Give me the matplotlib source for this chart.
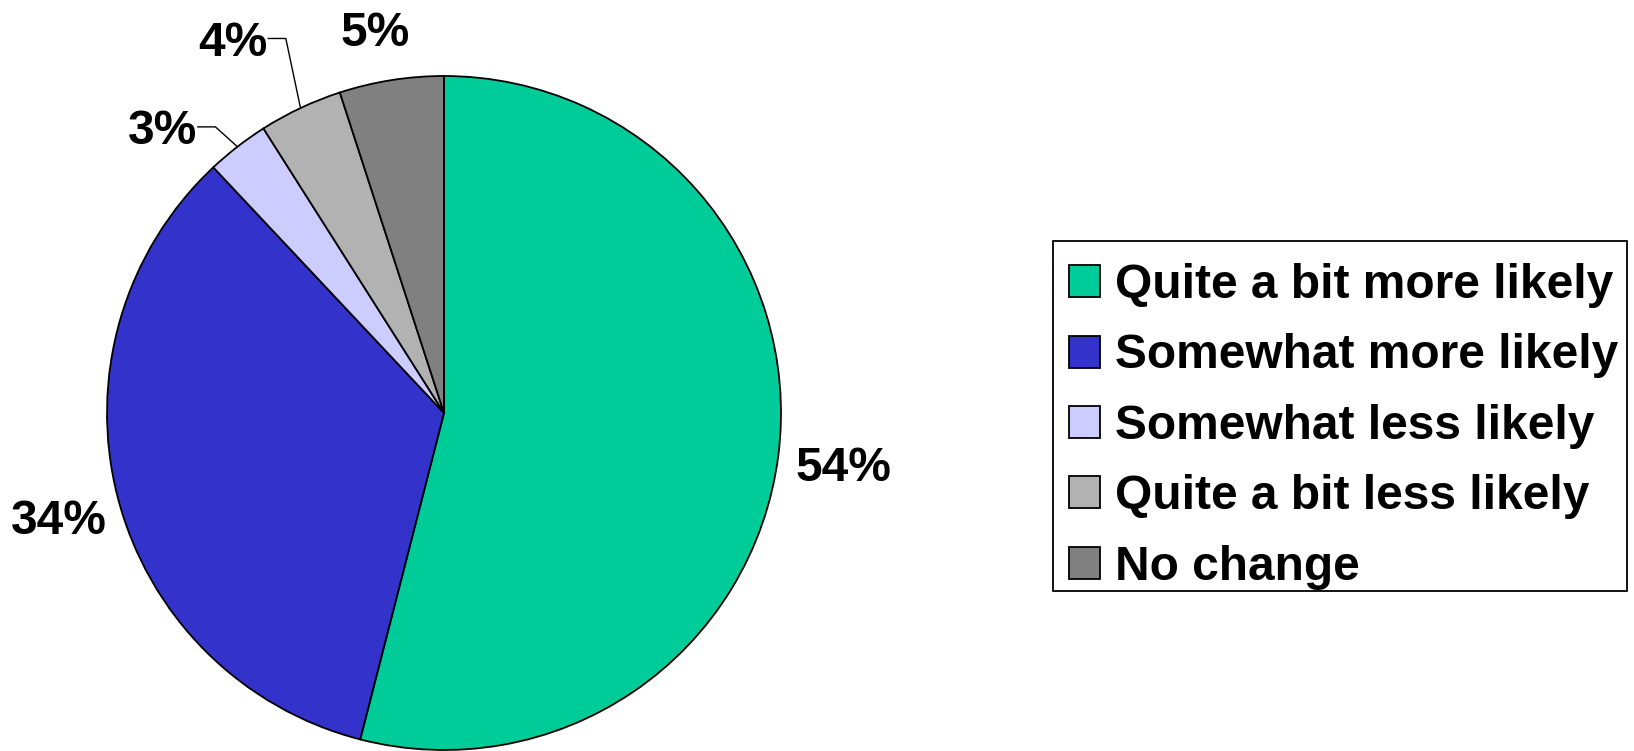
import matplotlib
matplotlib.use("Agg")
import matplotlib.pyplot as plt
from matplotlib.patches import Rectangle
import numpy as np

categories = ["Quite a bit more likely", "Somewhat more likely", "Somewhat less likely",
              "Quite a bit less likely", "No change"]
values = [54, 34, 3, 4, 5]
labels = ["54%", "34%", "3%", "4%", "5%"]
colors = ["#00CC99", "#3333CC", "#CCCCFF", "#B2B2B2", "#808080"]

# label placement (style): radial distance and angular shift (deg) per label
label_r = [1.197, 1.184, 1.186, 1.27, 1.152]
label_shift = [-0.3, 0.9, 6.9, 4.3, 1.2]
leader = [False, False, True, True, False]

plt.rcParams['font.family'] = ['Liberation Sans', 'DejaVu Sans']
W, H, dpi = 1634, 751, 100
fig = plt.figure(figsize=(W / dpi, H / dpi), dpi=dpi)
ax = fig.add_axes([0, 0, 1, 1])
R = 337.0
cx, cy = 444.0, 413.0

wedges, _ = ax.pie(values, colors=colors, startangle=90, counterclock=False,
                   radius=1.0, center=(0, 0), frame=True,
                   wedgeprops=dict(edgecolor='black', linewidth=1.3))
ax.set_xlim(-cx / R, (W - cx) / R)
ax.set_ylim(-(H - cy) / R, cy / R)
ax.set_aspect('equal')
ax.axis('off')

fs = 34.5
for w, lab, r, sh, ld in zip(wedges, labels, label_r, label_shift, leader):
    mid = np.deg2rad((w.theta1 + w.theta2) / 2)
    a = mid + np.deg2rad(sh)
    tx, ty = r * np.cos(a), r * np.sin(a) - 0.009
    ax.text(tx, ty, lab, ha='center', va='center', fontsize=fs, fontweight='bold')
    if ld:
        px, py = np.cos(mid), np.sin(mid)
        right = tx + 0.104
        elbow_x = right + 0.052
        ly = ty + 0.015
        ax.plot([px, elbow_x, right], [py, ly, ly], color='black', lw=1.0)

# legend frame (drawn separately so the padding matches the reference)
bx0, by0, bx1, by1 = 1053, 241, 1627, 591
fig.patches.append(Rectangle((bx0 / W, 1 - by1 / H), (bx1 - bx0) / W, (by1 - by0) / H,
                             transform=fig.transFigure, facecolor='white',
                             edgecolor='black', linewidth=1.3, zorder=0))

leg = fig.legend(wedges, categories, loc='upper left',
                 bbox_to_anchor=(1069 / W, 1 - 263 / H),
                 prop=dict(size=fs, weight='bold'),
                 frameon=False,
                 handlelength=0.65, handleheight=0.65, handletextpad=0.3,
                 labelspacing=0.53, borderpad=0, borderaxespad=0)

fig.savefig("out.png", dpi=dpi)
